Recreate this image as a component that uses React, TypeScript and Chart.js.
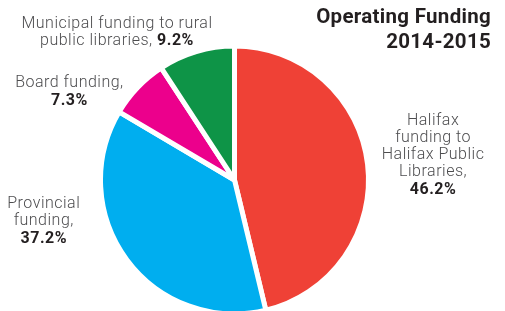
import React, { useEffect, useRef } from "react";
import { Chart, registerables } from "chart.js";

Chart.register(...registerables);

// ---- data ----
const categories = [
  "Halifax funding to Halifax Public Libraries",
  "Provincial funding",
  "Board funding",
  "Municipal funding to rural public libraries",
];
const values = [46.2, 37.2, 7.3, 9.2];
const titleLines = ["Operating Funding", "2014-2015"];
const labelLines = [
  ["Halifax", "funding to", "Halifax Public", "Libraries,"],
  ["Provincial", "funding,"],
  ["Board funding,"],
  ["Municipal funding to rural", "public libraries,"],
];
const valueInline = [false, false, false, true];

// ---- style ----
const colors = ["#EF4136", "#00AEEF", "#EC008C", "#0E9447"];
const BORDER = 5;
const FONT = "Roboto, 'Noto Sans', sans-serif";
const LABEL_SIZE = 16;
const LABEL_SPACING = "0.5px";
const LINE_H = 17.3;
const labelOffsets = [
  [68, -40],
  [-85, -50],
  [-70, -1.7],
  [-80, -26],
];

const labelPlugin = {
  id: "sliceLabels",
  afterDraw(chart: any) {
    const ctx = chart.ctx;
    const meta = chart.getDatasetMeta(0);
    ctx.save();
    ctx.textBaseline = "alphabetic";
    ctx.textAlign = "left";
    (ctx as any).letterSpacing = LABEL_SPACING;
    const regular = `300 ${LABEL_SIZE}px ${FONT}`;
    const bold = `700 ${LABEL_SIZE}px ${FONT}`;
    meta.data.forEach((el: any, i: number) => {
      const p = el.getProps(["x", "y", "startAngle", "endAngle", "outerRadius"], true);
      const mid = (p.startAngle + p.endAngle) / 2;
      const r = p.outerRadius - BORDER / 2;
      const ax = p.x + Math.cos(mid) * r + labelOffsets[i][0];
      const ay = p.y + Math.sin(mid) * r + labelOffsets[i][1];
      const valText = `${values[i].toFixed(1)}%`;
      const lines: { t: string; b: boolean }[][] = labelLines[i].map((l) => [{ t: l, b: false }]);
      if (valueInline[i]) {
        lines[lines.length - 1].push({ t: " " + valText, b: true });
      } else {
        lines.push([{ t: valText, b: true }]);
      }
      lines.forEach((segs, li) => {
        let total = 0;
        segs.forEach((s) => {
          ctx.font = s.b ? bold : regular;
          total += ctx.measureText(s.t).width;
        });
        let x = ax - total / 2;
        const y = ay + li * LINE_H;
        segs.forEach((s) => {
          ctx.font = s.b ? bold : regular;
          ctx.fillStyle = s.b ? "#231F20" : "#4D4D4F";
          ctx.fillText(s.t, x, y);
          x += ctx.measureText(s.t).width;
        });
      });
    });
    // title
    (ctx as any).letterSpacing = "0.3px";
    ctx.font = `700 20.5px ${FONT}`;
    ctx.fillStyle = "#231F20";
    ctx.textAlign = "right";
    titleLines.forEach((t, i) => {
      ctx.fillText(t, chart.width - 14, 22.7 + i * 25);
    });
    ctx.restore();
  },
};

export default function App() {
  const ref = useRef<HTMLCanvasElement>(null);
  useEffect(() => {
    if (!ref.current) return;
    const chart = new Chart(ref.current, {
      type: "pie",
      data: {
        labels: categories,
        datasets: [
          {
            data: values,
            backgroundColor: colors,
            borderColor: "#ffffff",
            borderWidth: BORDER,
          },
        ],
      },
      options: {
        responsive: false,
        animation: false,
        devicePixelRatio: 1,
        layout: { padding: { left: 98, right: 134, top: 43.5, bottom: 3.5 } },
        plugins: {
          legend: { display: false },
          title: { display: false },
          tooltip: { enabled: false },
        },
      },
      plugins: [labelPlugin],
    });
    return () => chart.destroy();
  }, []);
  return (
    <div style={{ position: "absolute", left: 0, top: 0, width: 505, height: 311, overflow: "hidden", background: "#fff" }}>
      <canvas ref={ref} width={505} height={320} style={{ display: "block" }} />
    </div>
  );
}
